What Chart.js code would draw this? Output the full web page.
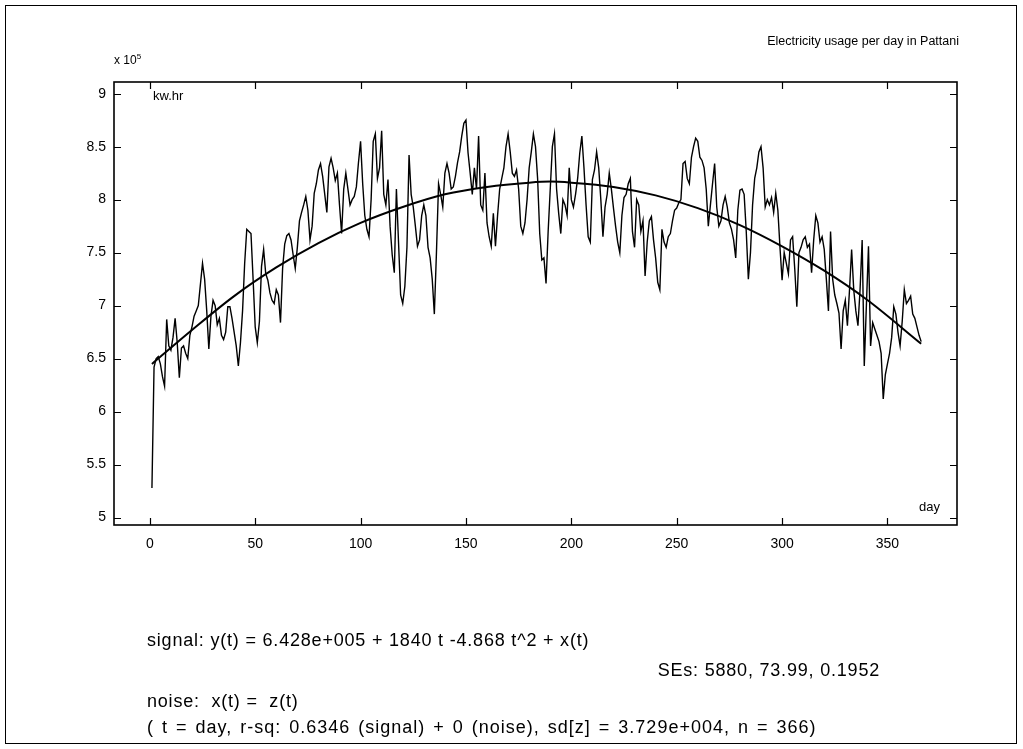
<!DOCTYPE html>
<html>
<head>
<meta charset="utf-8">
<script src="https://cdn.jsdelivr.net/npm/chart.js@4.4.1/dist/chart.umd.min.js"></script>
<style>
  html, body { margin: 0; padding: 0; background: #fff; }
  #wrap { position: relative; width: 1023px; height: 749px; font-family: "Liberation Sans", Arial, sans-serif; color: #000; }
  #frame { position: absolute; left: 5px; top: 5px; width: 1012px; height: 739px; border: 1px solid #000; box-sizing: border-box; }
  canvas { position: absolute; left: 0; top: 0; }
  .t { position: absolute; white-space: nowrap; line-height: 1; }
  .note { font-size: 18px; letter-spacing: 0.8px; }
</style>
</head>
<body>
<div id="wrap">
  <div id="frame"></div>
  <canvas id="chart" width="1023" height="749"></canvas>
  <div class="t" style="right:64px; top:35px; font-size:12.5px;">Electricity usage per day in Pattani</div>
  <div class="t" style="left:114px; top:53px; font-size:12px;">x 10<sup style="font-size:8px; vertical-align:5px;">5</sup></div>
  <div class="t" style="left:153px; top:89px; font-size:13px;">kw.hr</div>
  <div class="t" style="right:83px; top:500px; font-size:13px;">day</div>
  <div class="t note" style="left:147px; top:631px;">signal: y(t) = 6.428e+005 + 1840 t -4.868 t^2 + x(t)</div>
  <div class="t note" style="right:143px; top:661px;">SEs: 5880, 73.99, 0.1952</div>
  <div class="t note" style="left:147px; top:692px;">noise:&nbsp; x(t) =&nbsp; z(t)</div>
  <div class="t note" style="left:147px; top:718px; letter-spacing:1px; word-spacing:2px;">( t = day, r-sq: 0.6346 (signal) + 0 (noise), sd[z] = 3.729e+004, n = 366)</div>
</div>
<script>
// daily usage, kw.hr x 10^5, day 1..366
var usage = [
  5.28, 6.42, 6.50, 6.52, 6.45, 6.33, 6.24, 6.87, 6.62, 6.58,
  6.70, 6.88, 6.65, 6.32, 6.60, 6.62, 6.55, 6.50, 6.72, 6.80,
  6.90, 6.95, 7.00, 7.20, 7.40, 7.25, 6.95, 6.59, 6.90, 7.05,
  7.00, 6.82, 6.88, 6.72, 6.68, 6.75, 6.99, 6.99, 6.88, 6.75,
  6.62, 6.43, 6.65, 6.95, 7.40, 7.72, 7.70, 7.68, 7.25, 6.80,
  6.65, 6.85, 7.37, 7.53, 7.30, 7.24, 7.12, 7.05, 7.02, 7.15,
  7.10, 6.84, 7.35, 7.58, 7.66, 7.68, 7.62, 7.48, 7.35, 7.55,
  7.80, 7.88, 7.95, 8.03, 7.90, 7.62, 7.75, 8.06, 8.15, 8.28,
  8.34, 8.22, 8.05, 7.88, 8.31, 8.39, 8.30, 8.18, 8.25, 7.95,
  7.68, 8.10, 8.25, 8.10, 7.95, 8.00, 8.03, 8.12, 8.35, 8.55,
  8.15, 7.85, 7.72, 7.65, 8.00, 8.55, 8.62, 8.20, 8.30, 8.65,
  8.05, 7.95, 8.19, 7.75, 7.48, 7.31, 8.10, 7.60, 7.10, 7.02,
  7.18, 7.55, 8.42, 8.05, 7.93, 7.75, 7.56, 7.62, 7.85, 7.95,
  7.85, 7.55, 7.45, 7.25, 6.92, 7.50, 8.15, 8.05, 7.93, 8.25,
  8.34, 8.25, 8.10, 8.12, 8.22, 8.35, 8.45, 8.60, 8.72, 8.75,
  8.44, 8.25, 8.05, 8.30, 8.10, 8.60, 7.95, 7.90, 8.25, 7.78,
  7.65, 7.56, 7.87, 7.56, 7.85, 8.10, 8.20, 8.30, 8.50, 8.62,
  8.45, 8.25, 8.22, 8.28, 8.10, 7.75, 7.68, 7.78, 8.00, 8.30,
  8.45, 8.62, 8.50, 8.20, 7.68, 7.43, 7.45, 7.21, 7.70, 8.10,
  8.50, 8.62, 8.10, 7.87, 7.68, 8.00, 7.95, 7.85, 8.30, 8.00,
  7.93, 8.05, 8.20, 8.44, 8.60, 8.30, 7.95, 7.65, 7.60, 8.19,
  8.28, 8.45, 8.30, 8.00, 7.65, 7.93, 8.05, 8.25, 8.10, 7.92,
  7.75, 7.60, 7.50, 7.85, 8.02, 8.05, 8.15, 8.20, 7.70, 7.55,
  8.00, 7.95, 7.70, 7.80, 7.28, 7.60, 7.80, 7.84, 7.62, 7.45,
  7.22, 7.15, 7.72, 7.60, 7.55, 7.65, 7.68, 7.80, 7.90, 7.92,
  7.97, 8.00, 8.34, 8.36, 8.20, 8.15, 8.40, 8.50, 8.58, 8.55,
  8.40, 8.37, 8.30, 8.10, 7.75, 7.95, 8.15, 8.34, 7.93, 7.75,
  7.80, 7.95, 8.03, 7.93, 7.78, 7.72, 7.62, 7.45, 7.90, 8.09,
  8.10, 8.05, 7.70, 7.25, 7.50, 7.95, 8.20, 8.30, 8.45, 8.50,
  8.30, 7.93, 8.00, 7.95, 8.02, 7.88, 8.06, 7.90, 7.55, 7.24,
  7.50, 7.40, 7.30, 7.62, 7.65, 7.35, 6.99, 7.50, 7.55, 7.62,
  7.65, 7.55, 7.58, 7.31, 7.62, 7.85, 7.78, 7.60, 7.65, 7.53,
  7.25, 6.95, 7.70, 7.25, 7.10, 7.02, 6.93, 6.59, 6.95, 7.05,
  6.81, 7.15, 7.53, 7.15, 6.95, 6.81, 7.15, 7.62, 6.43, 7.00,
  7.56, 6.62, 6.84, 6.78, 6.72, 6.66, 6.55, 6.12, 6.35, 6.45,
  6.55, 6.70, 6.99, 6.92, 6.75, 6.62, 6.85, 7.15, 7.02, 7.05,
  7.09, 6.92, 6.88, 6.80, 6.72, 6.66
];

// fitted trend
var fitDays = [1, 20, 40, 60, 80, 100, 120, 140, 160, 180, 190, 200, 220, 240, 260, 280, 300, 320, 340, 366];
var fitVals = [6.45, 6.77, 7.09, 7.36, 7.59, 7.78, 7.93, 8.05, 8.12, 8.16, 8.17, 8.16, 8.12, 8.04, 7.92, 7.76, 7.56, 7.33, 7.06, 6.64];

var xTicks = [0, 50, 100, 150, 200, 250, 300, 350];
var yTicks = [5, 5.5, 6, 6.5, 7, 7.5, 8, 8.5, 9];

var fontFam = '"Liberation Sans", Arial, sans-serif';

var boxTicks = {
  id: 'boxTicks',
  afterDatasetsDraw: function(chart) {
    var ctx = chart.ctx, a = chart.chartArea, x = chart.scales.x, y = chart.scales.y;
    ctx.save();
    ctx.strokeStyle = '#000';
    ctx.lineWidth = 1.6;
    ctx.strokeRect(a.left, a.top, a.right - a.left, a.bottom - a.top);
    ctx.lineWidth = 1.2;
    ctx.beginPath();
    xTicks.forEach(function(v) {
      var px = Math.round(x.getPixelForValue(v)) + 0.5;
      ctx.moveTo(px, a.bottom); ctx.lineTo(px, a.bottom - 7);
      ctx.moveTo(px, a.top); ctx.lineTo(px, a.top + 7);
    });
    yTicks.forEach(function(v) {
      var py = Math.round(y.getPixelForValue(v)) + 0.5;
      ctx.moveTo(a.left, py); ctx.lineTo(a.left + 7, py);
      ctx.moveTo(a.right, py); ctx.lineTo(a.right - 7, py);
    });
    ctx.stroke();
    ctx.restore();
  }
};

new Chart(document.getElementById('chart'), {
  type: 'line',
  data: {
    datasets: [{
      data: usage.map(function(v, i) { return {x: i + 1, y: v}; }),
      borderColor: '#000',
      borderWidth: 1.4,
      pointRadius: 0,
      tension: 0
    }, {
      data: fitDays.map(function(d, i) { return {x: d, y: fitVals[i]}; }),
      borderColor: '#000',
      borderWidth: 2,
      pointRadius: 0,
      cubicInterpolationMode: 'monotone'
    }]
  },
  options: {
    responsive: false,
    devicePixelRatio: 1,
    animation: false,
    layout: { padding: { top: 82, right: 66, left: 0, bottom: 0 } },
    plugins: { legend: { display: false }, tooltip: { enabled: false } },
    scales: {
      x: {
        type: 'linear', min: -17, max: 383,
        afterBuildTicks: function(s) { s.ticks = xTicks.map(function(v) { return {value: v}; }); },
        afterFit: function(s) { s.height = 224; },
        grid: { display: false, drawTicks: false },
        border: { display: false },
        ticks: { color: '#000', padding: 11, maxRotation: 0, autoSkip: false, font: { family: fontFam, size: 14 } }
      },
      y: {
        type: 'linear', min: 4.93, max: 9.11,
        afterBuildTicks: function(s) { s.ticks = yTicks.map(function(v) { return {value: v}; }); },
        afterFit: function(s) { s.width = 114; },
        grid: { display: false, drawTicks: false },
        border: { display: false },
        ticks: { color: '#000', padding: 8, autoSkip: false, font: { family: fontFam, size: 14 },
                 callback: function(v) { return String(v); } }
      }
    }
  },
  plugins: [boxTicks]
});
</script>
</body>
</html>
